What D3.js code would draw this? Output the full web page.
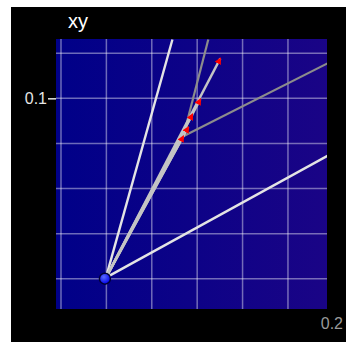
<!DOCTYPE html>
<html>
<head>
<meta charset="utf-8">
<script src="https://cdn.jsdelivr.net/npm/d3@7"></script>
<style>
  body { margin: 0; background: #fff; }
  text { font-family: "Liberation Sans", Arial, sans-serif; }
</style>
</head>
<body>
<div id="chart"></div>
<script>
const margin = { top: 39, right: 31, bottom: 36, left: 56 };

// grid ticks
const xTicks = [0.08, 0.10, 0.12, 0.14, 0.16, 0.18];
const yTicks = [0.02, 0.04, 0.06, 0.08, 0.10, 0.12];
const xLabels = [0.2];
const yLabels = [0.1];

// common start of all vectors (blue point)
const originX = 0.0998;
const originY = 0.0205;

// vectors ending in red arrowheads
const vecX = [0.1502, 0.1414, 0.1379, 0.1361, 0.1339];
const vecY = [0.1177, 0.0996, 0.0929, 0.0872, 0.0832];

// white rays from the blue point
const rayX = [0.1291, 0.1974];
const rayY = [0.1261, 0.0745];

// gray lines from the last vector tip
const grayStartX = 0.1339;
const grayStartY = 0.0832;
const grayX = [0.1449, 0.1974];
const grayY = [0.1261, 0.1155];

const W = 358, H = 345;
const width = W - margin.left - margin.right;
const height = H - margin.top - margin.bottom;

const svg = d3.select("#chart").append("svg")
    .attr("width", W)
    .attr("height", H);

// black panel
svg.append("rect")
    .attr("x", 11).attr("y", 7)
    .attr("width", 335).attr("height", 335)
    .attr("fill", "#000");

const defs = svg.append("defs");

const bg = defs.append("linearGradient")
    .attr("id", "bg")
    .attr("x1", "0%").attr("x2", "100%")
    .attr("y1", "0%").attr("y2", "0%");
bg.append("stop").attr("offset", "0%").attr("stop-color", "#000088");
bg.append("stop").attr("offset", "100%").attr("stop-color", "#1a0486");

const ball = defs.append("radialGradient")
    .attr("id", "ball")
    .attr("cx", "40%").attr("cy", "35%").attr("r", "65%");
ball.append("stop").attr("offset", "0%").attr("stop-color", "#5a6bff");
ball.append("stop").attr("offset", "100%").attr("stop-color", "#0000e8");

defs.append("clipPath").attr("id", "clip")
    .append("rect").attr("width", width).attr("height", height);

defs.append("marker")
    .attr("id", "arrow")
    .attr("viewBox", "0 0 10 10")
    .attr("refX", 8).attr("refY", 5)
    .attr("markerWidth", 7).attr("markerHeight", 7)
    .attr("markerUnits", "userSpaceOnUse")
    .attr("orient", "auto")
    .append("path")
    .attr("d", "M0,0 L10,5 L0,10 Z")
    .attr("fill", "#ff0000");

const g = svg.append("g")
    .attr("transform", `translate(${margin.left},${margin.top})`);

const x = d3.scaleLinear()
    .domain([0.0778, 0.1972])
    .range([0, width]);

const y = d3.scaleLinear()
    .domain([0.0066, 0.1263])
    .range([height, 0]);

g.append("rect")
    .attr("width", width)
    .attr("height", height)
    .attr("fill", "url(#bg)");

// grid
g.append("g")
    .selectAll("line")
    .data(xTicks)
    .join("line")
    .attr("x1", d => x(d)).attr("x2", d => x(d))
    .attr("y1", 0).attr("y2", height)
    .attr("stroke", "rgba(255,255,255,0.42)")
    .attr("stroke-width", 1.5);

g.append("g")
    .selectAll("line")
    .data(yTicks)
    .join("line")
    .attr("x1", 0).attr("x2", width)
    .attr("y1", d => y(d)).attr("y2", d => y(d))
    .attr("stroke", "rgba(255,255,255,0.42)")
    .attr("stroke-width", 1.5);

// y axis: only 0.1 labelled
const yAxis = g.append("g")
    .call(d3.axisLeft(y).tickValues(yLabels).tickSize(8).tickFormat(d3.format(".1")));
yAxis.select(".domain").remove();
yAxis.selectAll(".tick line").attr("stroke", "#e6e6e6").attr("stroke-width", 1.5);
yAxis.selectAll(".tick text")
    .attr("fill", "#e6e6e6")
    .attr("font-size", 16)
    .attr("x", -9)
    .style("font-family", "'Liberation Sans', Arial, sans-serif");

// x axis: only 0.2 labelled, no tick
const xAxis = g.append("g")
    .attr("transform", `translate(0,${height})`)
    .call(d3.axisBottom(x).tickValues(xLabels).tickSize(0).tickFormat(d3.format(".1")));
xAxis.select(".domain").remove();
xAxis.selectAll(".tick text")
    .attr("fill", "#9a9a9a")
    .attr("font-size", 16)
    .attr("y", 9)
    .attr("dx", -2)
    .style("font-family", "'Liberation Sans', Arial, sans-serif");

// title
svg.append("text")
    .attr("x", 68)
    .attr("y", 28)
    .attr("fill", "#fff")
    .attr("font-size", 20)
    .text("xy");

const plot = g.append("g").attr("clip-path", "url(#clip)");

// white rays
plot.selectAll(".ray")
    .data(rayX.map((d, i) => [d, rayY[i]]))
    .join("line")
    .attr("class", "ray")
    .attr("x1", x(originX)).attr("y1", y(originY))
    .attr("x2", d => x(d[0])).attr("y2", d => y(d[1]))
    .attr("stroke", "#e4e4e4")
    .attr("stroke-width", 2.4);

// gray lines
plot.selectAll(".gray")
    .data(grayX.map((d, i) => [d, grayY[i]]))
    .join("line")
    .attr("class", "gray")
    .attr("x1", x(grayStartX)).attr("y1", y(grayStartY))
    .attr("x2", d => x(d[0])).attr("y2", d => y(d[1]))
    .attr("stroke", "#8c8c8c")
    .attr("stroke-width", 2.2);

// vectors
plot.selectAll(".vec")
    .data(vecX.map((d, i) => [d, vecY[i]]))
    .join("line")
    .attr("class", "vec")
    .attr("x1", x(originX)).attr("y1", y(originY))
    .attr("x2", d => x(d[0])).attr("y2", d => y(d[1]))
    .attr("stroke", "#c4c4c4")
    .attr("stroke-width", 2.4)
    .attr("marker-end", "url(#arrow)");

// blue point
plot.append("circle")
    .attr("cx", x(originX) - 1)
    .attr("cy", y(originY) + 1)
    .attr("r", 5.5)
    .attr("fill", "url(#ball)")
    .attr("stroke", "#000033")
    .attr("stroke-width", 1.5);
</script>
</body>
</html>
